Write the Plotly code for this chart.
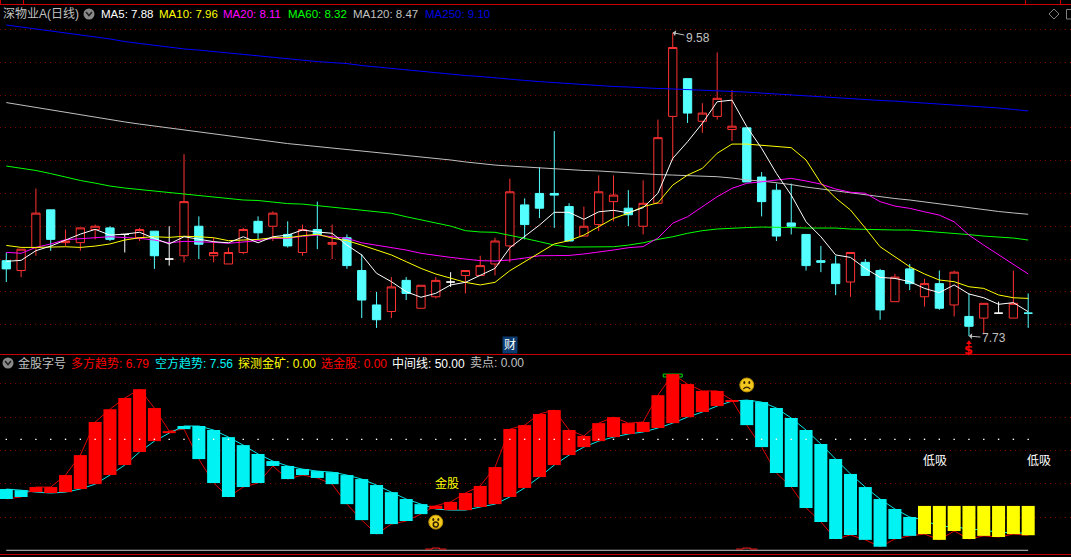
import plotly.graph_objects as go

W, H = 1071, 557

OPEN = [8.19,8.13,8.27,8.50,8.30,8.30,8.38,8.39,8.35,8.33,
        8.37,8.20,8.22,8.40,8.22,8.17,8.24,8.43,8.40,8.35,
        8.24,8.38,8.29,8.33,8.13,7.92,7.88,8.07,7.90,7.97,
        8.06,8.10,8.10,8.17,8.28,8.53,8.60,8.60,8.52,8.34,
        8.41,8.55,8.51,8.40,8.54,9.07,9.30,9.04,9.07,8.99,
        9.00,8.70,8.62,8.42,8.35,8.19,8.17,8.06,8.18,8.13,
        7.94,8.14,7.97,8.05,7.92,7.85,7.84,7.87,7.84,7.87]
HIGH = [8.24,8.26,8.63,8.50,8.38,8.39,8.41,8.40,8.35,8.39,
        8.37,8.40,8.84,8.46,8.33,8.27,8.39,8.46,8.49,8.43,
        8.41,8.55,8.41,8.35,8.23,8.00,8.09,8.09,8.04,8.09,
        8.12,8.13,8.22,8.33,8.69,8.57,8.76,8.98,8.54,8.52,
        8.71,8.71,8.62,8.68,9.05,9.58,9.30,9.15,9.46,9.23,
        9.00,8.73,8.66,8.66,8.35,8.28,8.22,8.24,8.20,8.14,
        8.11,8.17,8.08,8.13,8.13,7.99,7.93,7.94,8.13,7.99]
LOW = [8.06,8.09,8.22,8.25,8.28,8.25,8.32,8.31,8.24,8.31,
       8.14,8.16,8.18,8.20,8.18,8.17,8.23,8.32,8.31,8.27,
       8.22,8.26,8.20,8.14,7.84,7.78,7.84,7.95,7.90,7.96,
       8.03,7.99,8.10,8.10,8.18,8.32,8.45,8.39,8.31,8.34,
       8.37,8.43,8.40,8.35,8.54,8.80,9.03,8.97,9.05,8.92,
       8.67,8.46,8.31,8.35,8.13,8.12,7.98,7.97,8.10,7.83,
       7.94,8.01,7.91,7.89,7.85,7.73,7.74,7.87,7.84,7.78]
CLOSE = [8.14,8.26,8.48,8.32,8.31,8.39,8.40,8.32,8.35,8.38,
         8.22,8.20,8.55,8.29,8.24,8.24,8.38,8.36,8.48,8.28,
         8.38,8.35,8.30,8.16,7.95,7.83,8.03,7.99,8.04,8.07,
         8.06,8.13,8.16,8.31,8.61,8.41,8.51,8.59,8.31,8.40,
         8.61,8.59,8.47,8.54,8.94,9.49,9.09,9.09,9.18,9.01,
         8.67,8.55,8.34,8.40,8.16,8.18,8.05,8.24,8.10,7.89,
         8.09,8.05,8.05,7.90,8.12,7.79,7.93,7.87,7.93,7.87]
DOJI_WHITE = [8, 11, 30, 67]

MA5 = [8.186,8.192,8.251,8.279,8.316,8.352,8.381,8.346,8.352,8.363,
       8.326,8.292,8.336,8.320,8.306,8.299,8.336,8.299,8.336,8.346,
       8.377,8.365,8.357,8.285,8.225,8.113,8.062,8.001,7.967,7.991,
       8.042,8.058,8.103,8.143,8.269,8.336,8.407,8.485,8.485,8.442,
       8.488,8.497,8.482,8.513,8.601,8.814,8.915,9.028,9.159,9.169,
       9.007,8.875,8.722,8.590,8.427,8.336,8.225,8.210,8.143,8.088,
       8.082,8.062,8.021,7.995,8.042,7.987,7.964,7.924,7.934,7.879]
MA10 = [8.283,8.271,8.271,8.275,8.275,8.271,8.279,8.292,8.316,8.330,
        8.336,8.332,8.339,8.336,8.330,8.312,8.316,8.320,8.330,8.330,
        8.342,8.351,8.328,8.312,8.285,8.255,8.225,8.184,8.143,8.109,
        8.082,8.058,8.042,8.058,8.129,8.184,8.235,8.292,8.312,8.346,
        8.397,8.448,8.479,8.519,8.543,8.651,8.712,8.753,8.845,8.901,
        8.901,8.895,8.885,8.879,8.804,8.663,8.572,8.499,8.389,8.275,
        8.214,8.153,8.109,8.072,8.062,8.031,8.021,7.981,7.964,7.960]
MA20 = [8.241,8.235,8.271,8.292,8.318,8.326,8.330,8.336,8.332,8.326,
        8.316,8.299,8.308,8.306,8.302,8.296,8.302,8.312,8.326,8.326,
        8.339,8.346,8.336,8.326,8.299,8.285,8.273,8.255,8.235,8.221,
        8.210,8.200,8.190,8.188,8.194,8.206,8.220,8.221,8.222,8.231,
        8.241,8.255,8.269,8.276,8.328,8.419,8.458,8.519,8.580,8.631,
        8.662,8.671,8.682,8.692,8.676,8.657,8.627,8.607,8.601,8.550,
        8.523,8.509,8.488,8.468,8.427,8.346,8.285,8.225,8.168,8.109]
MA60 = [8.767,8.755,8.740,8.721,8.700,8.679,8.663,8.645,8.633,8.624,
        8.612,8.603,8.593,8.587,8.578,8.566,8.560,8.557,8.548,8.538,
        8.535,8.526,8.514,8.505,8.499,8.488,8.479,8.458,8.438,8.418,
        8.401,8.373,8.365,8.363,8.346,8.326,8.306,8.285,8.273,8.273,
        8.273,8.275,8.285,8.299,8.320,8.336,8.357,8.373,8.383,8.389,
        8.392,8.395,8.395,8.392,8.389,8.389,8.389,8.383,8.380,8.380,
        8.377,8.377,8.371,8.365,8.358,8.349,8.340,8.334,8.328,8.316]
MA120 = [9.154,9.139,9.124,9.109,9.093,9.078,9.064,9.051,9.036,9.023,
         9.011,8.999,8.987,8.975,8.962,8.950,8.938,8.926,8.914,8.904,
         8.895,8.886,8.877,8.871,8.862,8.853,8.843,8.834,8.822,8.813,
         8.804,8.792,8.782,8.773,8.767,8.761,8.755,8.749,8.743,8.740,
         8.737,8.731,8.724,8.718,8.715,8.712,8.709,8.706,8.702,8.694,
         8.682,8.676,8.667,8.654,8.639,8.627,8.615,8.605,8.593,8.581,
         8.569,8.560,8.548,8.535,8.526,8.514,8.502,8.490,8.481,8.473]
MA250 = [9.627,9.615,9.603,9.590,9.578,9.566,9.554,9.542,9.526,9.514,
         9.502,9.493,9.481,9.474,9.465,9.456,9.447,9.438,9.429,9.420,
         9.413,9.404,9.398,9.392,9.380,9.371,9.362,9.353,9.343,9.334,
         9.325,9.319,9.313,9.304,9.295,9.289,9.282,9.276,9.270,9.261,
         9.258,9.252,9.249,9.243,9.240,9.237,9.234,9.231,9.225,9.222,
         9.218,9.212,9.206,9.200,9.194,9.191,9.185,9.179,9.173,9.167,
         9.163,9.157,9.154,9.148,9.139,9.133,9.127,9.121,9.112,9.103]

BULL = [23.1,24.0,28.5,28.5,33.9,42.9,57.8,63.6,68.6,72.6,
        64.1,53.7,54.6,41.1,30.3,24.0,28.5,30.3,38.0,32.1,
        33.9,32.6,29.8,20.8,13.6,7.3,11.8,13.2,16.3,20.1,
        21.8,25.8,29.0,37.5,54.6,56.4,61.4,63.2,54.2,51.5,
        57.3,60.0,57.3,57.8,69.9,79.4,74.9,71.8,71.8,67.7,
        56.4,46.5,34.8,28.5,19.1,12.8,5.1,6.9,4.7,1.6,
        5.1,6.5,7.3,4.7,8.7,5.1,6.5,6.0,7.3,6.79]
BEAR = [27.6,27.1,26.2,25.8,26.2,27.6,29.8,33.9,38.4,44.3,
        49.2,52.8,56.0,56.0,54.2,51.0,47.4,43.4,40.2,38.0,
        36.6,35.7,35.2,33.9,32.1,29.4,26.2,23.1,20.8,18.6,
        18.1,18.1,19.5,20.8,24.0,28.1,33.0,38.4,42.9,46.5,
        49.2,51.0,52.4,53.3,55.1,57.3,60.0,62.3,65.0,67.2,
        67.7,66.8,64.1,59.6,54.2,47.9,41.1,34.4,28.5,23.1,
        18.6,15.0,13.6,10.7,10.7,9.5,9.2,8.0,8.0,7.56]
YELLOW_FROM = 62
YELLOW_TOP = 20
MID_LINE = 50
PRICE_GRID = [9.6, 9.4, 9.2, 9.0, 8.8, 8.6, 8.4, 8.2, 8.0, 7.8]
IND_GRID = [15, 30, 45, 60, 75]

RED, CYAN, WHITE = "#ff3232", "#54ffff", "#ffffff"
IDX = list(range(len(OPEN)))

XR = [-0.425, 71.89]
YR_MAIN = [7.621, 9.749]
YR_IND = [-1.67, 88.0]


def px(x):
    return x / W


def py(y):
    return 1 - y / H


fig = go.Figure()


def candle(idx, up_line, dn_line, fill_up, fill_dn):
    fig.add_trace(go.Candlestick(
        x=idx, open=[OPEN[i] for i in idx], high=[HIGH[i] for i in idx],
        low=[LOW[i] for i in idx], close=[CLOSE[i] for i in idx],
        increasing=dict(line=dict(color=up_line, width=1), fillcolor=fill_up),
        decreasing=dict(line=dict(color=dn_line, width=1), fillcolor=fill_dn),
        hoverinfo="skip", showlegend=False, xaxis="x", yaxis="y"))


reds = [i for i in IDX if CLOSE[i] > OPEN[i] and i not in DOJI_WHITE]
cyans = [i for i in IDX if CLOSE[i] <= OPEN[i] and i not in DOJI_WHITE]
candle(reds, RED, RED, "#000000", "#000000")
candle(cyans, CYAN, CYAN, CYAN, CYAN)
candle(DOJI_WHITE, WHITE, WHITE, WHITE, WHITE)

for vals, col in [(MA250, "#0000ff"), (MA120, "#c0c0c0"), (MA60, "#00ff00"),
                  (MA20, "#ff00ff"), (MA10, "#ffff00"), (MA5, "#ffffff")]:
    fig.add_trace(go.Scatter(x=IDX, y=vals, mode="lines", line=dict(color=col, width=1),
                             hoverinfo="skip", showlegend=False, xaxis="x", yaxis="y"))

# low / high signal marker
fig.add_trace(go.Scatter(x=[65], y=[7.69], mode="markers",
                         marker=dict(symbol="triangle-up", size=5, color="#ff0000"),
                         hoverinfo="skip", showlegend=False, xaxis="x", yaxis="y"))

# indicator lines, below the bars
fig.add_trace(go.Bar(x=[45], y=[1.3], base=[78.1], width=1.28,
                     marker=dict(color="rgba(0,0,0,0)", line=dict(color="#00e000", width=1)),
                     hoverinfo="skip", showlegend=False, xaxis="x2", yaxis="y2"))
fig.add_trace(go.Scatter(x=IDX, y=BULL, mode="lines", line=dict(color="#e00000", width=1),
                         hoverinfo="skip", showlegend=False, xaxis="x2", yaxis="y2"))
fig.add_trace(go.Scatter(x=IDX, y=BEAR, mode="lines", line=dict(color="#00e8e8", width=1),
                         hoverinfo="skip", showlegend=False, xaxis="x2", yaxis="y2"))

# indicator bars in an overlaying subplot so they cover the lines
groups = {"#ff0000": [], "#00f2f2": [], "#ffff00": []}
for i in IDX:
    if i >= YELLOW_FROM:
        groups["#ffff00"].append((i, BULL[i], YELLOW_TOP))
    elif BULL[i] > BEAR[i]:
        groups["#ff0000"].append((i, BEAR[i], BULL[i]))
    else:
        groups["#00f2f2"].append((i, BULL[i], BEAR[i]))
for col, rows in groups.items():
    fig.add_trace(go.Bar(x=[r[0] for r in rows], base=[r[1] for r in rows],
                         y=[r[2] - r[1] for r in rows], width=0.88,
                         marker=dict(color=col, line=dict(width=0)),
                         hoverinfo="skip", showlegend=False, xaxis="x3", yaxis="y3"))
fig.add_trace(go.Scatter(x=IDX, y=[MID_LINE] * len(IDX), mode="markers",
                         marker=dict(symbol="square", size=1.4, color="#ffffff"),
                         hoverinfo="skip", showlegend=False, xaxis="x3", yaxis="y3"))
fig.add_trace(go.Scatter(x=IDX, y=[0] * len(IDX), mode="lines",
                         line=dict(color="#c8c8c8", width=1),
                         hoverinfo="skip", showlegend=False, xaxis="x3", yaxis="y3"))
for c in (29, 50):
    fig.add_trace(go.Scatter(x=[c - 0.72, c - 0.25, c - 0.25, c + 0.25, c + 0.25, c + 0.72],
                             y=[0.55, 0.55, 1.0, 1.0, 0.55, 0.55], mode="lines",
                             line=dict(color="#ff2020", width=1),
                             hoverinfo="skip", showlegend=False, xaxis="x3", yaxis="y3"))

CJK = "Liberation Sans, Noto Sans CJK SC"
ann = []


def label(x, y, text, color, size=12, family=CJK):
    ann.append(dict(xref="paper", yref="paper", x=px(x), y=py(y), text=text, showarrow=False,
                    xanchor="left", yanchor="middle", font=dict(color=color, size=size, family=family),
                    borderpad=0))


label(2, 13.5, "深物业A(日线)", "#c0c0c0")
label(99.5, 13.5, "MA5: 7.88", "#ffffff", 11.5)
label(157.5, 13.5, "MA10: 7.96", "#ffff00", 11.5)
label(222, 13.5, "MA20: 8.11", "#ff00ff", 11.5)
label(287, 13.5, "MA60: 8.32", "#00ff00", 11.5)
label(352, 13.5, "MA120: 8.47", "#c0c0c0", 11.5)
label(424, 13.5, "MA250: 9.10", "#0000e0", 11.5)

label(17, 363, "金股字号", "#c0c0c0")
label(70, 363, "多方趋势: 6.79", "#ff0000")
label(153.5, 363, "空方趋势: 7.56", "#00f2f2")
label(237, 363, "探测金矿: 0.00", "#ffff00")
label(319.5, 363, "选金股: 0.00", "#ff0000")
label(391, 363, "中间线: 50.00", "#ffffff")
label(469, 363, "卖点: 0.00", "#c0c0c0")


def on_ind(x, y, text, color):
    ann.append(dict(xref="x3", yref="y3", x=x, y=y, text=text, showarrow=False, xanchor="left",
                    yanchor="middle", font=dict(color=color, size=12, family=CJK), borderpad=0))


on_ind(28.85, 30.3, "金股", "#ffff00")
on_ind(61.85, 40.2, "低吸", "#ffffff")
on_ind(68.85, 40.2, "低吸", "#ffffff")

for i, dy, text in [(45, 5, "9.58"), (65, 2, "7.73")]:
    ann.append(dict(xref="x", yref="y", x=i, y=LOW[i] if i == 65 else HIGH[i], text=text,
                    showarrow=True, ax=25, ay=dy, arrowcolor="#c0c0c0", arrowwidth=1, arrowhead=1,
                    arrowsize=1, standoff=0, startstandoff=0,
                    font=dict(color="#c0c0c0", size=12, family="Liberation Sans")))
ann.append(dict(xref="x", yref="y", x=65, y=7.651, text="<b>$</b>", showarrow=False,
                font=dict(color="#ff0000", size=13, family="DejaVu Sans"), borderpad=0))
ann.append(dict(xref="x", yref="y", x=34, y=7.676, text="财", showarrow=False, bgcolor="#0a3a6e",
                font=dict(color="#ffffff", size=12, family=CJK), borderpad=1))

shapes = []
SEP = "#cc0000"
for y in (4.5, 354.5, 554.5):
    shapes.append(dict(type="line", xref="paper", yref="paper", x0=0, x1=1, y0=py(y), y1=py(y),
                       line=dict(color=SEP, width=1), layer="above"))
for x in (0.5, 23.5, 1025.5, 1060.5):
    shapes.append(dict(type="line", xref="paper", yref="paper", x0=px(x), x1=px(x), y0=py(0), y1=py(4),
                       line=dict(color=SEP, width=1), layer="above"))


def circle_px(cx, cy, r, fill, line="rgba(0,0,0,0)"):
    return dict(type="circle", xref="paper", yref="paper", x0=px(cx - r), x1=px(cx + r),
                y0=py(cy + r), y1=py(cy - r), fillcolor=fill, line=dict(color=line, width=1), layer="above")


def chevron(cx, cy):
    return dict(type="path", xref="paper", yref="paper", layer="above",
                path=f"M{px(cx-3)},{py(cy-2)} L{px(cx)},{py(cy+1.5)} L{px(cx+3)},{py(cy-2)}",
                line=dict(color="#202020", width=1.5))


shapes += [circle_px(89, 14, 5.5, "#8a8a8a"), chevron(89, 14),
           circle_px(8, 363, 5.5, "#8a8a8a"), chevron(8, 363)]
shapes.append(dict(type="path", xref="paper", yref="paper", layer="above",
                   path=f"M{px(1054)},{py(9)} L{px(1059)},{py(14)} L{px(1054)},{py(19)} L{px(1049)},{py(14)} Z",
                   line=dict(color="#808080", width=1)))
shapes.append(dict(type="rect", xref="paper", yref="paper", layer="above",
                   x0=px(1066.5), x1=px(1071.5), y0=py(19), y1=py(9.5),
                   line=dict(color="#808080", width=1)))


def pix(kind, xa, ya, x0, x1, y0, y1, **kw):
    return dict(type=kind, xref="x3", yref="y3", xsizemode="pixel", ysizemode="pixel",
                xanchor=xa, yanchor=ya, x0=x0, x1=x1, y0=y0, y1=y1, layer="above", **kw)


FACES = [(29, 12.7, "open"), (50, 74.5, "sad")]
for fx, fy, mood in FACES:
    shapes.append(pix("circle", fx, fy, -7, 7, -7, 7, fillcolor="#f2c81e", line=dict(color="#b89000", width=1)))
    for ex in (-3.5, 1.5):
        shapes.append(pix("circle", fx, fy, ex, ex + 2, 1, 4, fillcolor="#302000", line=dict(width=0)))
    if mood == "open":
        shapes.append(pix("circle", fx, fy, -2.5, 2.5, -5, 0, fillcolor="#f2c81e", line=dict(color="#302000", width=1.5)))
    else:
        shapes.append(dict(type="path", xref="x3", yref="y3", xsizemode="pixel", ysizemode="pixel",
                           xanchor=fx, yanchor=fy, layer="above",
                           path="M-3.5,-4 Q0,-0.5 3.5,-4", line=dict(color="#302000", width=1.2)))

GRID = dict(showgrid=True, gridcolor="#800000", griddash="1px,4px", gridwidth=1,
            showticklabels=False, ticks="", zeroline=False, showline=False, fixedrange=True)
XAX = dict(range=XR, showgrid=False, showticklabels=False, ticks="", zeroline=False,
           showline=False, fixedrange=True)

fig.update_layout(
    width=W, height=H, margin=dict(l=0, r=0, t=0, b=0),
    paper_bgcolor="#000000", plot_bgcolor="#000000", showlegend=False,
    barmode="overlay", boxgap=0.2,
    xaxis=dict(XAX, anchor="y", domain=[0, 1], rangeslider=dict(visible=False)),
    yaxis=dict(GRID, anchor="x", domain=[py(354), py(5)], range=YR_MAIN, tickvals=PRICE_GRID),
    xaxis2=dict(XAX, anchor="y2", domain=[0, 1]),
    yaxis2=dict(GRID, anchor="x2", domain=[py(554), py(355)], range=YR_IND, tickvals=IND_GRID),
    xaxis3=dict(XAX, anchor="y3", overlaying="x2"),
    yaxis3=dict(range=YR_IND, showgrid=False, showticklabels=False, ticks="", zeroline=False,
                showline=False, fixedrange=True, anchor="x3", overlaying="y2"),
    annotations=ann, shapes=shapes,
)

fig.write_html("out.html", config=dict(displayModeBar=False),
               post_script="document.body.style.margin='0';document.body.style.background='#000';document.documentElement.style.overflow='hidden';")
